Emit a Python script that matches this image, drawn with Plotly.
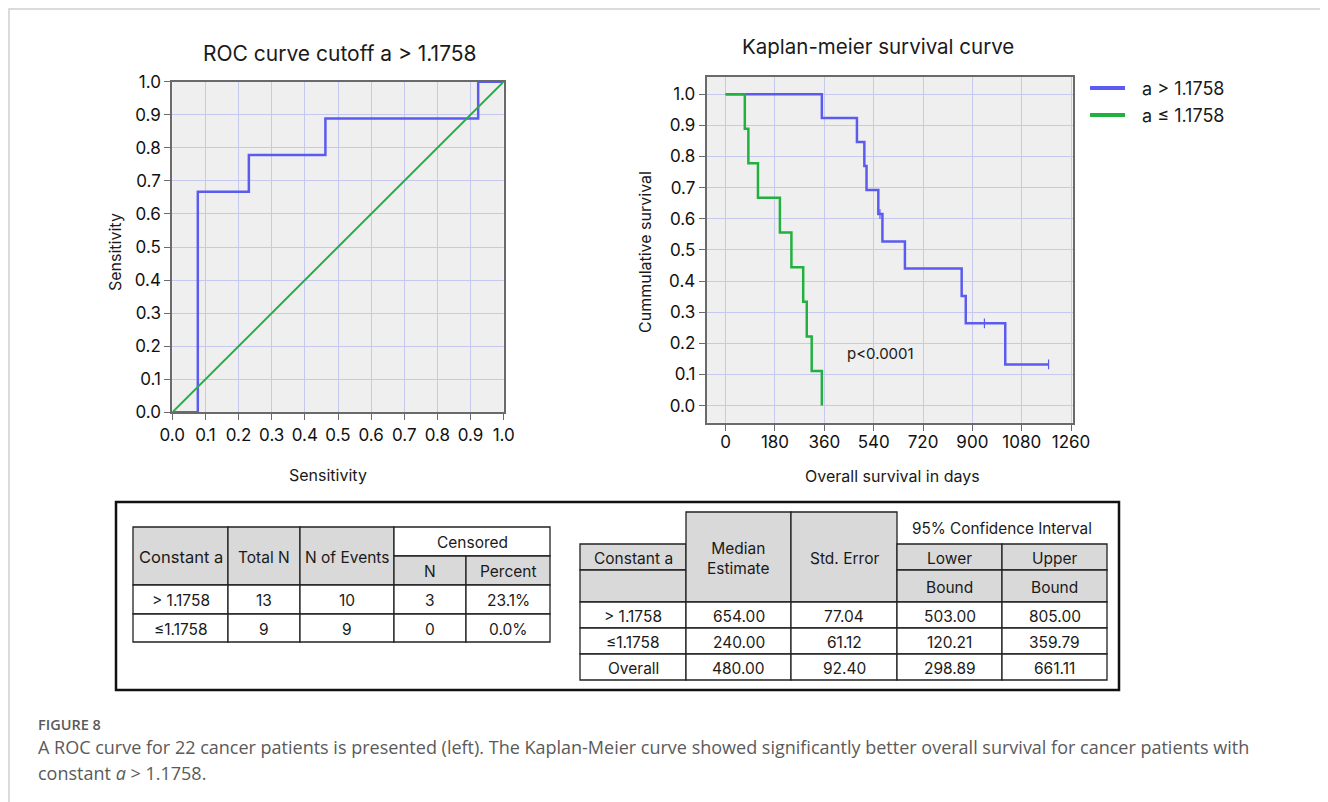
import plotly.graph_objects as go

# page is rendered with the browser's default 8px body margin: compensate
OFF = 8
W, H = 1328 - OFF, 802 - OFF

# ---------------- data ----------------
roc_fpr = [0.0, 0.077, 0.231, 0.462, 0.923, 1.0]
roc_tpr = [0.0, 0.667, 0.778, 0.889, 1.0, 1.0]
ref_x = [0.0, 1.0]
ref_y = [0.0, 1.0]

km_hi_name = "a > 1.1758"
km_hi_days = [0, 351, 479, 506, 514, 557, 572, 654, 861, 876, 1020, 1178]
km_hi_surv = [1.0, 0.923, 0.846, 0.769, 0.692, 0.615, 0.527, 0.440, 0.352, 0.264, 0.132, 0.132]
km_hi_cens_days = [563, 944, 1178]
km_hi_cens_surv = [0.615, 0.264, 0.132]

km_lo_name = "a ≤ 1.1758"
km_lo_days = [0, 70, 83, 118, 198, 240, 283, 296, 314, 351]
km_lo_surv = [1.0, 0.889, 0.778, 0.667, 0.556, 0.444, 0.333, 0.222, 0.111, 0.0]

roc_ticks = [0.0, 0.1, 0.2, 0.3, 0.4, 0.5, 0.6, 0.7, 0.8, 0.9, 1.0]
km_x_ticks = [0, 180, 360, 540, 720, 900, 1080, 1260]
km_y_ticks = [0.0, 0.1, 0.2, 0.3, 0.4, 0.5, 0.6, 0.7, 0.8, 0.9, 1.0]

group_labels = ["> 1.1758", "≤1.1758"]
total_n = ["13", "9"]
n_events = ["10", "9"]
censored_n = ["3", "0"]
censored_pct = ["23.1%", "0.0%"]

median_rows = ["> 1.1758", "≤1.1758", "Overall"]
median_est = ["654.00", "240.00", "480.00"]
std_err = ["77.04", "61.12", "92.40"]
ci_lower = ["503.00", "120.21", "298.89"]
ci_upper = ["805.00", "359.79", "661.11"]

BLUE = "#5b5bf0"
GREEN = "#22b040"
GRID = "#c6c8ee"
BG = "#efefef"
AX = "#6a6a6a"
FONT = "Inter"


def px(x):
    return (x - OFF) / W


def py(y):
    return 1 - (y - OFF) / H


fig = go.Figure()

# ROC
fig.add_trace(go.Scatter(x=roc_fpr, y=roc_tpr, mode="lines", line=dict(color=BLUE, width=2.5, shape="hv"),
                         xaxis="x", yaxis="y", showlegend=False, hoverinfo="skip"))
fig.add_trace(go.Scatter(x=ref_x, y=ref_y, mode="lines", line=dict(color=GREEN, width=2),
                         xaxis="x", yaxis="y", showlegend=False, hoverinfo="skip"))

# KM
fig.add_trace(go.Scatter(x=km_hi_days, y=km_hi_surv, mode="lines", name=km_hi_name,
                         line=dict(color=BLUE, width=2.5, shape="hv"), xaxis="x2", yaxis="y2"))
fig.add_trace(go.Scatter(x=km_hi_cens_days, y=km_hi_cens_surv, mode="markers", showlegend=False,
                         marker=dict(symbol="line-ns", size=7, line=dict(color=BLUE, width=1.2)),
                         xaxis="x2", yaxis="y2"))
fig.add_trace(go.Scatter(x=km_lo_days, y=km_lo_surv, mode="lines", name=km_lo_name,
                         line=dict(color=GREEN, width=2.5, shape="hv"), xaxis="x2", yaxis="y2"))

tickfont = dict(family=FONT, size=17, color="#111111")

common = dict(showgrid=True, gridcolor=GRID, gridwidth=1, zeroline=False,
              showline=True, linecolor=AX, linewidth=2, mirror=True,
              ticks="outside", ticklen=6, tickcolor=AX, tickfont=tickfont, automargin=False)

fig.update_layout(
    width=W, height=H,
    margin=dict(l=0, r=0, t=0, b=0, autoexpand=False),
    paper_bgcolor="white",
    plot_bgcolor=BG,
    showlegend=False,
    xaxis=dict(domain=[px(172.3), px(503.7)], range=[0, 1], tickvals=roc_ticks, tickformat=".1f",
               anchor="y", **common),
    yaxis=dict(domain=[py(412.3), py(81.7)], range=[0, 1], tickvals=roc_ticks, tickformat=".1f",
               anchor="x", **common),
    xaxis2=dict(domain=[px(706.7), px(1072.7)], range=[-69, 1266], tickvals=km_x_ticks,
                anchor="y2", **common),
    yaxis2=dict(domain=[py(422.7), py(76.7)], range=[-0.055, 1.056], tickvals=km_y_ticks, tickformat=".1f",
                anchor="x2", **common),
)
fig.update_xaxes(ticklabelstandoff=0)
fig.layout.xaxis2.ticklabelstandoff = -3

ann = []
shapes = []


def text(x, y, s, size=15, color="#1a1a1a", family=FONT, xanchor="center", angle=0, weight=None):
    f = dict(family=family, size=size, color=color)
    if weight:
        f["weight"] = weight
    ann.append(dict(x=px(x), y=py(y), xref="paper", yref="paper", text=s, showarrow=False,
                    font=f, xanchor=xanchor, yanchor="middle", textangle=angle))


# titles and axis titles
text(340, 53, "ROC curve cutoff a > 1.1758", size=21)
text(878, 47, "Kaplan-meier survival curve", size=20.5)
text(115, 252, "Sensitivity", size=16, angle=-90)
text(328, 475, "Sensitivity", size=16)
text(645, 252, "Cummulative survival", size=16, angle=-90)
text(892, 476, "Overall survival in days", size=16)
ann.append(dict(x=566, y=0.166, xref="x2", yref="y2", text="p<0.0001", showarrow=False,
                font=dict(family=FONT, size=15, color="#1a1a1a"), xanchor="center", yanchor="middle"))

# legend (manual)
for name, col, yy in [(km_hi_name, BLUE, 88), (km_lo_name, GREEN, 115)]:
    shapes.append(dict(type="line", xref="paper", yref="paper", x0=px(1090), x1=px(1125), y0=py(yy), y1=py(yy),
                       line=dict(color=col, width=4)))
    text(1140, yy, name, size=18, xanchor="left")

# page frame (light, as in the source page)
shapes.append(dict(type="rect", xref="paper", yref="paper", x0=px(9), x1=px(1325), y0=py(830), y1=py(9),
                   line=dict(color="#d0d0d0", width=1.5), fillcolor="rgba(0,0,0,0)"))
# table box
shapes.append(dict(type="rect", xref="paper", yref="paper", x0=px(116), x1=px(1119), y0=py(690), y1=py(502),
                   line=dict(color="#111111", width=2.5), fillcolor="rgba(0,0,0,0)"))

GRAY = "#d9d9d9"
TB = dict(color="#222222", width=1.3)


def cell(x0, x1, y0, y1, s="", fill="white", border=True, size=15.5):
    shapes.append(dict(type="rect", xref="paper", yref="paper", x0=px(x0), x1=px(x1), y0=py(y1), y1=py(y0),
                       line=TB if border else dict(width=0), fillcolor=fill, layer="below"))
    if s:
        text((x0 + x1) / 2, (y0 + y1) / 2 + 1, s, size=size)


# left table
lc = [133, 228, 300, 394, 466, 550]
lr = [527, 556, 585, 614, 642]
cell(lc[0], lc[1], lr[0], lr[2], "Constant a", GRAY, size=16.5)
cell(lc[1], lc[2], lr[0], lr[2], "Total N", GRAY)
cell(lc[2], lc[3], lr[0], lr[2], "N of Events", GRAY)
cell(lc[3], lc[5], lr[0], lr[1], "Censored", "white")
cell(lc[3], lc[4], lr[1], lr[2], "N", GRAY)
cell(lc[4], lc[5], lr[1], lr[2], "Percent", GRAY)
for i in range(len(group_labels)):
    vals = [group_labels[i], total_n[i], n_events[i], censored_n[i], censored_pct[i]]
    for j, v in enumerate(vals):
        cell(lc[j], lc[j + 1], lr[2 + i], lr[3 + i], v)

# right table
rc = [580, 686, 791, 897, 1002, 1107]
rr = [512, 544, 570, 602, 628, 654, 680]
cell(rc[0], rc[1], rr[1], rr[2], "Constant a", GRAY)
cell(rc[0], rc[1], rr[2], rr[3], "", GRAY)
cell(rc[1], rc[2], rr[0], rr[3], "Median<br>Estimate", GRAY)
cell(rc[2], rc[3], rr[0], rr[3], "Std. Error", GRAY)
text((rc[3] + rc[5]) / 2, 528, "95% Confidence Interval", size=15.3)
cell(rc[3], rc[4], rr[1], rr[2], "Lower", GRAY)
cell(rc[4], rc[5], rr[1], rr[2], "Upper", GRAY)
cell(rc[3], rc[4], rr[2], rr[3], "Bound", GRAY)
cell(rc[4], rc[5], rr[2], rr[3], "Bound", GRAY)
for i in range(len(median_rows)):
    vals = [median_rows[i], median_est[i], std_err[i], ci_lower[i], ci_upper[i]]
    for j, v in enumerate(vals):
        cell(rc[j], rc[j + 1], rr[3 + i], rr[4 + i], v)

# caption
CAP = "Open Sans"
text(36, 724, "FIGURE 8", size=14.5, color="#5a5a5a", family=CAP, xanchor="left", weight=600)
text(36, 747, "A ROC curve for 22 cancer patients is presented (left). The Kaplan-Meier curve showed significantly better overall survival for cancer patients with",
     size=18, color="#5a5a5a", family=CAP, xanchor="left")
text(36, 773, "constant <i>a</i> &gt; 1.1758.", size=18, color="#5a5a5a", family=CAP, xanchor="left")

fig.update_layout(annotations=ann, shapes=shapes)
fig.write_html("out.html")
